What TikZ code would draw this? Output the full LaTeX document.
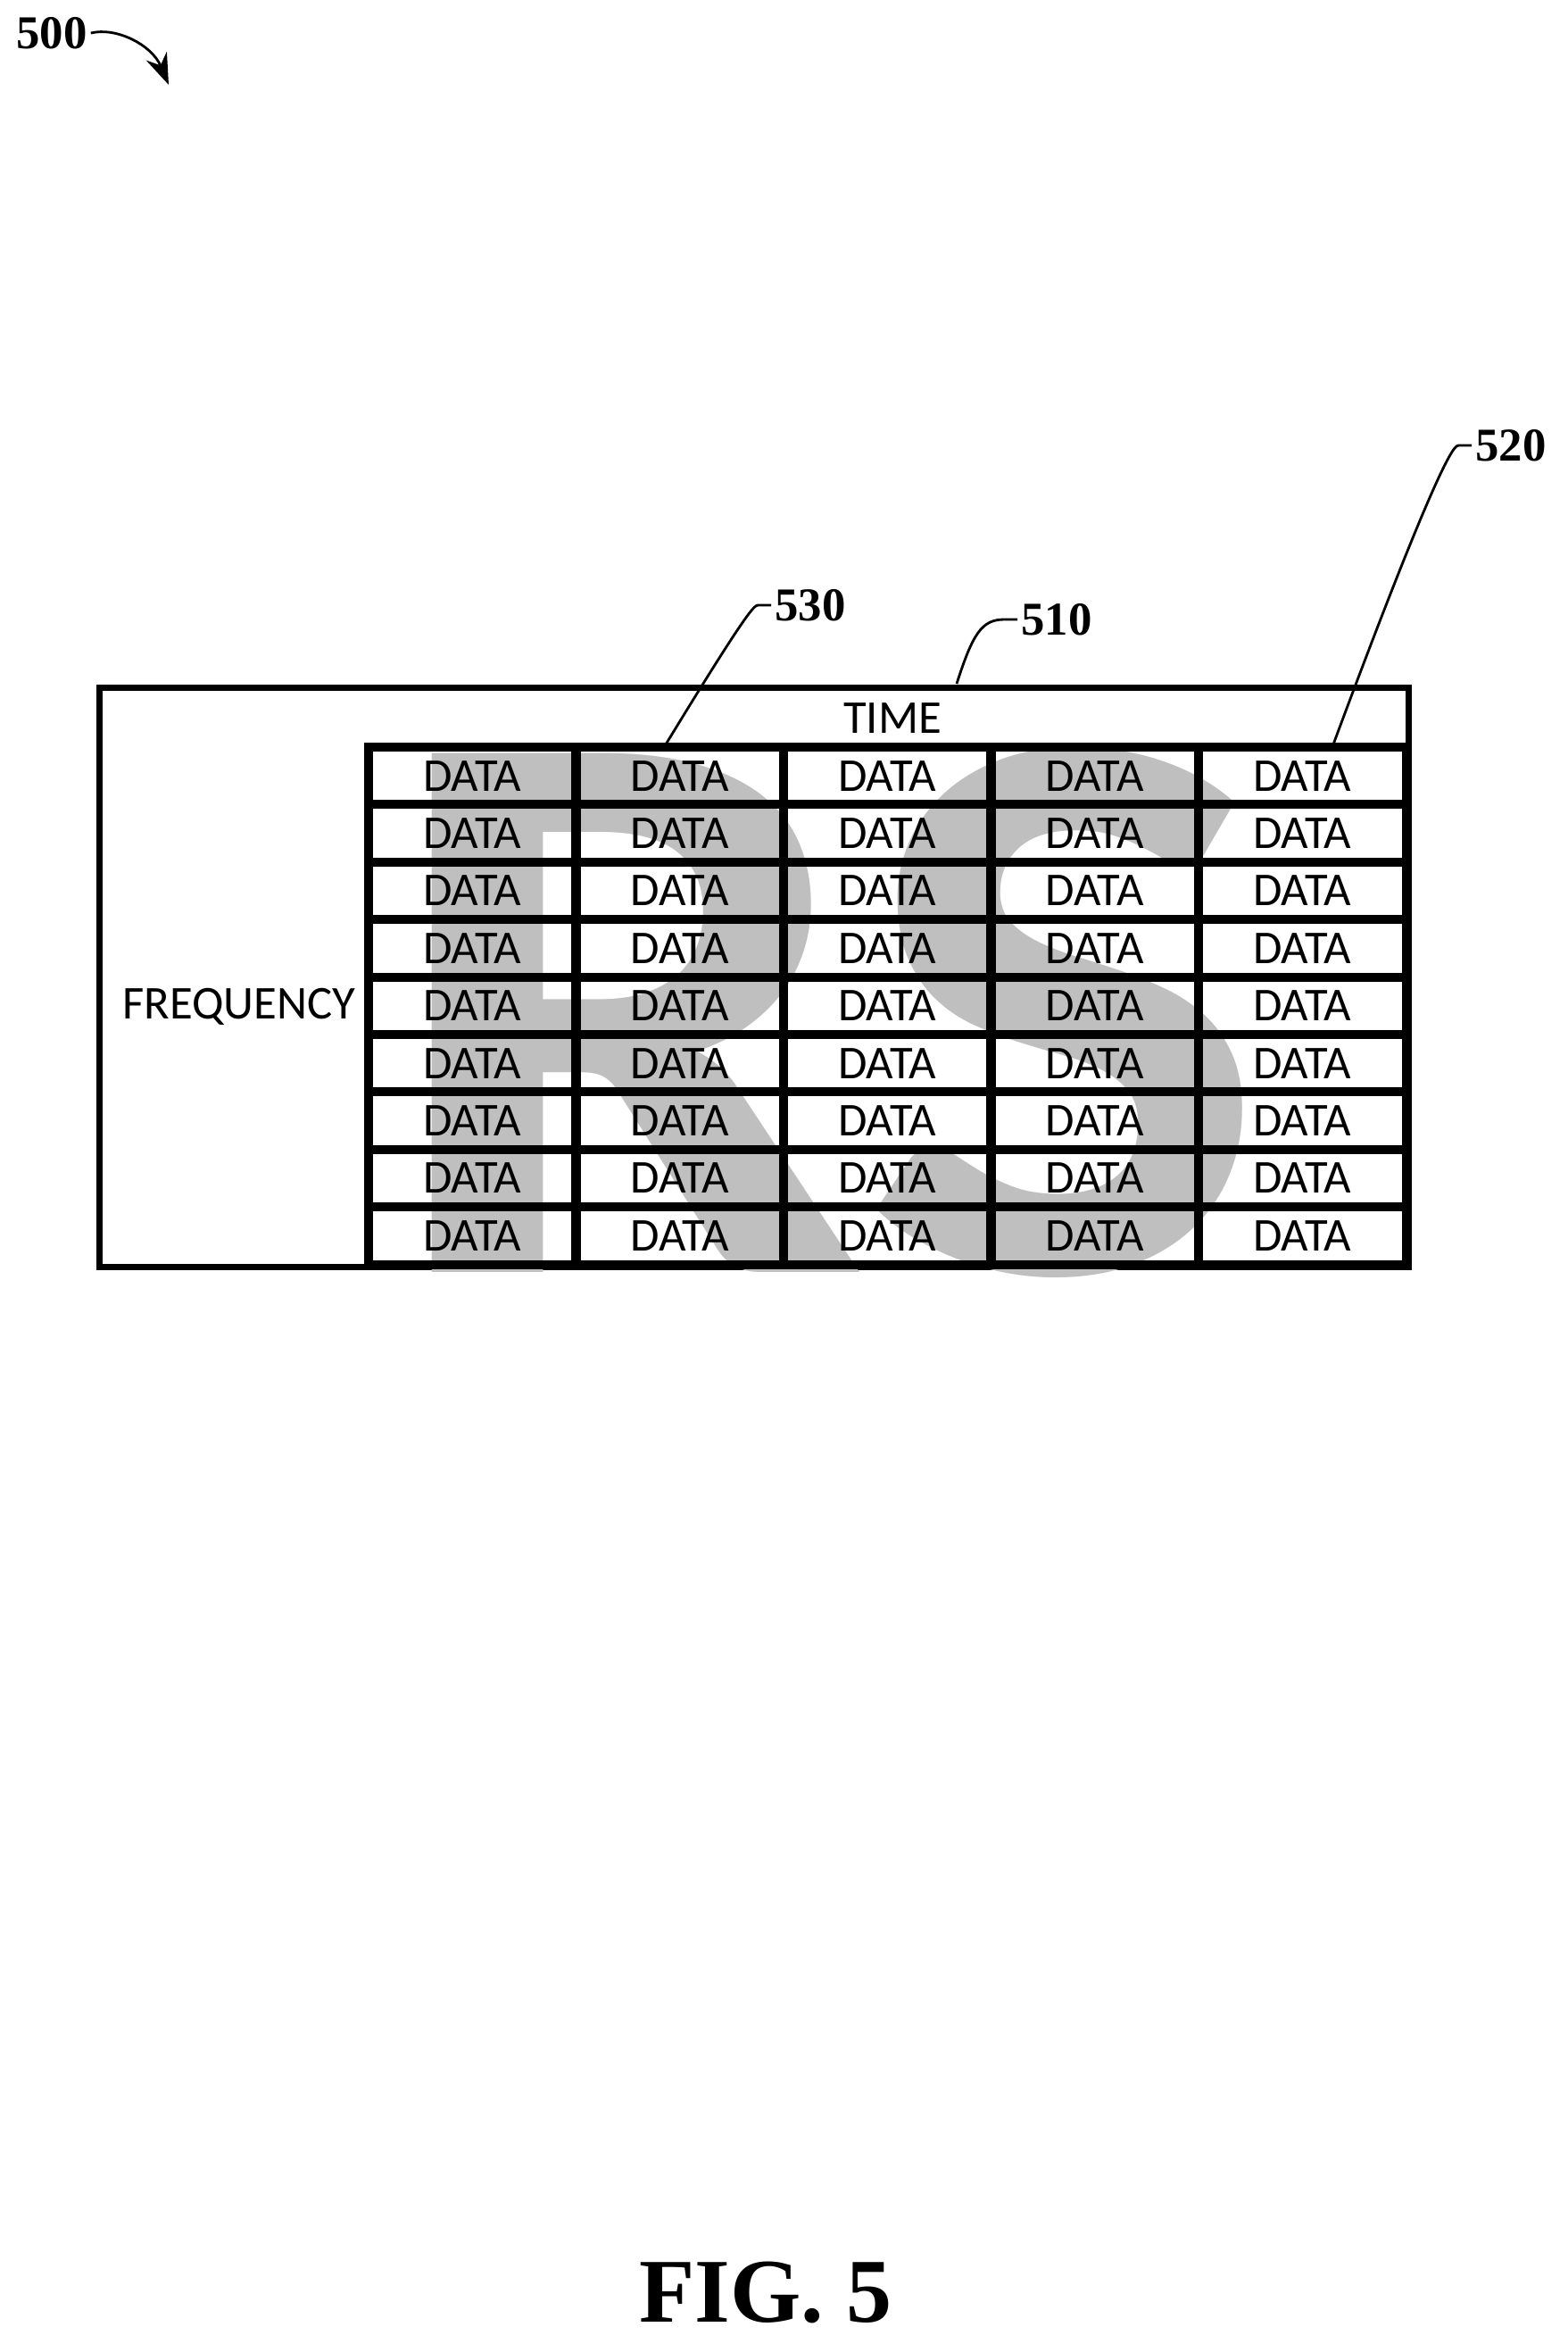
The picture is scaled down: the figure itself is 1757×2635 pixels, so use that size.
\documentclass[tikz,border=0pt]{standalone}
\usepackage{fontspec}
\setmainfont{Carlito}
\newfontfamily\numfont{Liberation Serif}
\usetikzlibrary{arrows.meta}

\begin{document}
\begin{tikzpicture}[x=0.01cm, y=-0.01cm,
  cell/.style={rectangle, draw=black, line width=0.1cm, minimum width=2.325cm, minimum height=0.644cm, inner sep=0pt, font=\fontsize{15}{15}\selectfont},
  refnum/.style={font=\numfont\bfseries\fontsize{15}{15}\selectfont, inner sep=1pt},
  leader/.style={line width=0.8pt, draw=black}]

\useasboundingbox (0,0) rectangle (1757,2635);

%\node [draw=white] (bg) at (0,0) {};
\node [draw=black, line width=0.07cm, minimum width=14.66cm, minimum height=6.48cm, inner sep=0pt] (frame) at (845,1095) {};
\node [font=\fontsize{15}{15}\selectfont] (freq) at (268,1128) {FREQUENCY};
\node [font=\fontsize{15}{15}\selectfont] (time) at (1000,805) {TIME};

% big RS behind the grid
\node [text=black!25, inner sep=0pt, font=\bfseries\fontsize{250}{250}\selectfont, xscale=1.1, yscale=1.02] (rs) at (925,1135) {RS};

\foreach \r in {0,...,8}
  \foreach \c in {0,...,4}
    \node [cell] (d-\r-\c) at ({413+232.5*(\c+0.5)}, {837+64.4*(\r+0.5)}) {DATA};

\node [refnum] (n500) at (58,37) {500};
\node [refnum] (n530) at (908,678) {530};
\node [refnum] (n510) at (1184,694) {510};
\node [refnum] (n520) at (1693,499) {520};
\node [font=\numfont\bfseries\fontsize{29}{29}\selectfont] (fig) at (858,2568) {FIG. 5};

\coordinate (t500) at (189,95);
\coordinate (t530) at (746,834);
\coordinate (t510) at (1072,766);
\coordinate (t520) at (1494,834);

\draw [-{Stealth[length=0.35cm, width=0.25cm]}, leader] (n500.east) .. controls (130,30) and (170,50) .. (t500);
\draw [leader] (n530.west) -- ++(-15,0) .. controls (845,678) and (835,688) .. (t530);
\draw [leader] (n510.west) -- ++(-15,0) .. controls (1100,694) and (1090,710) .. (t510);
\draw [leader] (n520.west) -- ++(-15,0) .. controls (1630,499) and (1615,508) .. (t520);

\end{tikzpicture}
\end{document}
